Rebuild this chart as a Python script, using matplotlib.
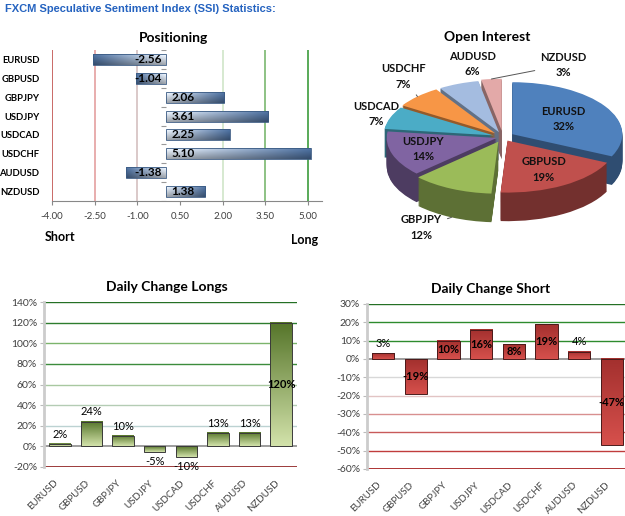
import numpy as np
import matplotlib
matplotlib.use('Agg')
import matplotlib.pyplot as plt
from matplotlib.colors import to_rgb

plt.rcParams['font.family'] = ['Lato', 'DejaVu Sans']

# data
pairs = ['EURUSD', 'GBPUSD', 'GBPJPY', 'USDJPY', 'USDCAD', 'USDCHF', 'AUDUSD', 'NZDUSD']
positioning = [-2.56, -1.04, 2.06, 3.61, 2.25, 5.10, -1.38, 1.38]
open_interest = [32, 19, 12, 14, 7, 7, 6, 3]
chg_longs = [2, 24, 10, -5, -10, 13, 13, 120]
chg_short = [3, -19, 10, 16, 8, 19, 4, -47]
pos_ticks = [-4.0, -2.5, -1.0, 0.5, 2.0, 3.5, 5.0]
longs_ticks = [-20, 0, 20, 40, 60, 80, 100, 120, 140]
short_ticks = [-60, -50, -40, -30, -20, -10, 0, 10, 20, 30]

W, H = 625, 516
fig = plt.figure(figsize=(W / 100, H / 100), dpi=100)
fig.patch.set_facecolor('white')


def box(l, t, r, b):
    # pixel box -> figure fraction
    return [l / W, 1 - b / H, (r - l) / W, (b - t) / H]


def fill_grad(ax, bars, c0, c1, horizontal=False, shade=0.0):
    a, b = np.array(to_rgb(c0)), np.array(to_rgb(c1))
    t = np.linspace(0, 1, 64)
    for bar in bars:
        x0, y0, w, h = bar.get_x(), bar.get_y(), bar.get_width(), bar.get_height()
        if horizontal:
            img = (a + (b - a) * t[:, None])[None, :, :]
            v = np.linspace(1.08, 1 - shade, 16)
            img = np.clip(img * v[:, None, None], 0, 1)
            ext = [x0, x0 + w, y0, y0 + h]
        else:
            img = (a + (b - a) * t[:, None])[:, None, :]
            ext = [x0, x0 + w, min(y0, y0 + h), max(y0, y0 + h)]
        ax.imshow(img, extent=ext, aspect='auto', origin='upper', zorder=3,
                  interpolation='bilinear')


fig.text(5 / W, 1 - 9 / H, 'FXCM Speculative Sentiment Index (SSI) Statistics:',
         color='#2563c0', fontsize=8, fontweight='bold', va='center',
         family=['Liberation Sans', 'DejaVu Sans'])

# ---------------- Positioning ----------------
n = len(pairs)
ax1 = fig.add_axes(box(52, 50, 322, 201))
ypos = np.arange(n)[::-1]
bars = ax1.barh(ypos, positioning, height=0.58, facecolor='none',
                edgecolor='#3a5a82', linewidth=0.6, zorder=4)
fill_grad(ax1, bars, '#e4ecf6', '#4a6c9a', horizontal=True, shade=0.3)
grid_pos = ['#c0504d', '#e4a0a0', '#d4c0c0', None, '#cfe5c8', '#7ab870', '#3c9c3c']
for tk, c in zip(pos_ticks, grid_pos):
    if c:
        ax1.axvline(tk, color=c, lw=1.2, zorder=1)
ax1.hlines(np.arange(n + 1) - 0.5, -0.15, 0, color='#999999', lw=0.8, zorder=2)
for v, y in zip(positioning, ypos):
    ax1.annotate(f'{v:.2f}', (0, y), xytext=(-3 if v < 0 else 4, 0),
                 textcoords='offset points', ha='right' if v < 0 else 'left',
                 va='center', fontsize=8.5, fontweight='bold', zorder=6)
ax1.set_xlim(-4, 5.5)
ax1.set_ylim(-0.5, n - 0.5)
ax1.set_xticks(pos_ticks, [f'{t:.2f}' for t in pos_ticks])
ax1.set_yticks(ypos, pairs)
for s in ['top', 'right', 'left']:
    ax1.spines[s].set_visible(False)
ax1.spines['bottom'].set_color('#888888')
ax1.tick_params(axis='x', length=3, color='#888888', labelsize=7,
                labelcolor='#404040', pad=5)
ax1.tick_params(axis='y', length=0, labelsize=6.8, pad=9)
for lb in ax1.get_yticklabels():
    lb.set_fontweight('bold')
fig.text(173 / W, 1 - 38 / H, 'Positioning', ha='center', va='center',
         fontsize=10, fontweight='bold')
fig.text(45 / W, 1 - 237 / H, 'Short', va='center', fontsize=9, fontweight='bold')
fig.text(318 / W, 1 - 240 / H, 'Long', ha='right', va='center', fontsize=9,
         fontweight='bold')

# ---------------- Open Interest (3D-ish pie) ----------------
pie_cols = ['#4f81bd', '#c0504d', '#9bbb59', '#8064a2', '#4bacc6', '#f79646',
            '#a4bce0', '#e3a9a8']
side_cols = [tuple(np.array(to_rgb(c)) * 0.6) for c in pie_cols]
explode = [0.1, 0.08, 0.1, 0.06, 0.09, 0.1, 0.1, 0.12]
ax2 = fig.add_axes(box(370, 45, 625, 240))
depth, nlay = 0.55, 30
for k in range(nlay, 0, -1):
    ax2.pie(open_interest, colors=side_cols, startangle=90, counterclock=False,
            explode=explode, center=(0, -depth * k / nlay),
            wedgeprops=dict(linewidth=0))
wedges, _ = ax2.pie(open_interest, colors=pie_cols, startangle=90,
                    counterclock=False, explode=explode,
                    wedgeprops=dict(linewidth=0))
ax2.set_aspect('auto')
ax2.set_xlim(-1.209, 1.109)
ax2.set_ylim(-1.981, 1.769)
ax2.axis('off')

inside = {'EURUSD': 0.55, 'GBPUSD': 0.65, 'USDJPY': 0.7}
outside = {'GBPJPY': (-30, -10, True, -depth), 'USDCAD': (-14, 4, False, 0),
           'USDCHF': (-14, 20, True, 0), 'AUDUSD': (14, 20, False, 0),
           'NZDUSD': (72, 14, True, 0)}
for w, name, p in zip(wedges, pairs, open_interest):
    mid = np.deg2rad((w.theta1 + w.theta2) / 2)
    cx, cy = w.center
    d = np.array([np.cos(mid), np.sin(mid)])
    txt = f'{name}\n{p}%'
    if name in inside:
        r = inside[name]
        ax2.text(cx + r * d[0], cy + r * d[1], txt, ha='center', va='center',
                 fontsize=8, fontweight='bold', color='#111111',
                 linespacing=1.5)
    else:
        dx, dy, line, dz = outside[name]
        ax2.annotate(txt, (cx + d[0], cy + d[1] + dz), xytext=(dx, dy),
                     textcoords='offset pixels', ha='center', va='center',
                     fontsize=8, fontweight='bold', color='#111111',
                     linespacing=1.5,
                     arrowprops=dict(arrowstyle='-', color='#555555', lw=0.7,
                                     shrinkA=2, shrinkB=0) if line else None)
fig.text(487 / W, 1 - 37 / H, 'Open Interest', ha='center', va='center',
         fontsize=10, fontweight='bold')


# ---------------- Daily change charts ----------------
def change_chart(ax, vals, ticks, grid_cols, c_top, c_bot, edge, modes):
    x = np.arange(len(vals))
    bb = ax.bar(x, vals, width=0.68, facecolor='none', edgecolor=edge,
                linewidth=0.7, zorder=4)
    fill_grad(ax, bb, c_top, c_bot)
    for tk, c in zip(ticks, grid_cols):
        ax.axhline(tk, color=c, lw=1.2 if tk in (0, ticks[0]) else 1.0, zorder=1)
    for xi, v, m in zip(x, vals, modes):
        if m == 'mid':
            ax.text(xi, v / 2, f'{v}%', ha='center', va='center', fontsize=8,
                    fontweight='bold', zorder=6)
        else:
            ax.annotate(f'{v}%', (xi, v), xytext=(0, 3 if v >= 0 else -3),
                        textcoords='offset points', ha='center',
                        va='bottom' if v >= 0 else 'top', fontsize=8, zorder=6)
    ax.set_xlim(-0.5, len(vals) - 0.5)
    ax.set_ylim(ticks[0], ticks[-1])
    ax.set_yticks(ticks, [f'{t}%' for t in ticks])
    ax.set_xticks(x, pairs)
    for s in ['top', 'right', 'bottom']:
        ax.spines[s].set_visible(False)
    ax.spines['left'].set_color('#cccccc')
    ax.spines['left'].set_linewidth(2)
    ax.tick_params(axis='y', length=3, color='#bbbbbb', labelsize=7.5,
                   labelcolor='#404040', pad=2)
    ax.tick_params(axis='x', length=0, labelsize=7, labelcolor='#404040',
                   pad=8, labelrotation=45)
    for lb in ax.get_xticklabels():
        lb.set_ha('right')


ax3 = fig.add_axes(box(44, 302, 297, 467))
longs_grid = ['#8b1a1a', '#8c8c8c', '#bcd2d2', '#b4ccb4', '#a8c8a0', '#3c8c3c',
              '#7cb46c', '#2e7d2e', '#247024']
change_chart(ax3, chg_longs, longs_ticks, longs_grid, '#56752a', '#d2e2aa',
             '#3a3a3a', ['out'] * 7 + ['mid'])
fig.text(167 / W, 1 - 287 / H, 'Daily Change Longs', ha='center', va='center',
         fontsize=10, fontweight='bold')

ax4 = fig.add_axes(box(367, 304, 628, 469))
short_grid = ['#a01010', '#c03c3c', '#c85a5a', '#d89090', '#e2c4c4', '#d8d8d8',
              '#8c8c8c', '#2e8b2e', '#2e8b2e', '#247024']
change_chart(ax4, chg_short, short_ticks, short_grid, '#a3302e', '#d6504c',
             '#4a1a1a', ['out', 'mid', 'mid', 'mid', 'mid', 'mid', 'out', 'mid'])
fig.text(491 / W, 1 - 289 / H, 'Daily Change Short', ha='center', va='center',
         fontsize=10, fontweight='bold')

fig.savefig('out.png', dpi=100)
